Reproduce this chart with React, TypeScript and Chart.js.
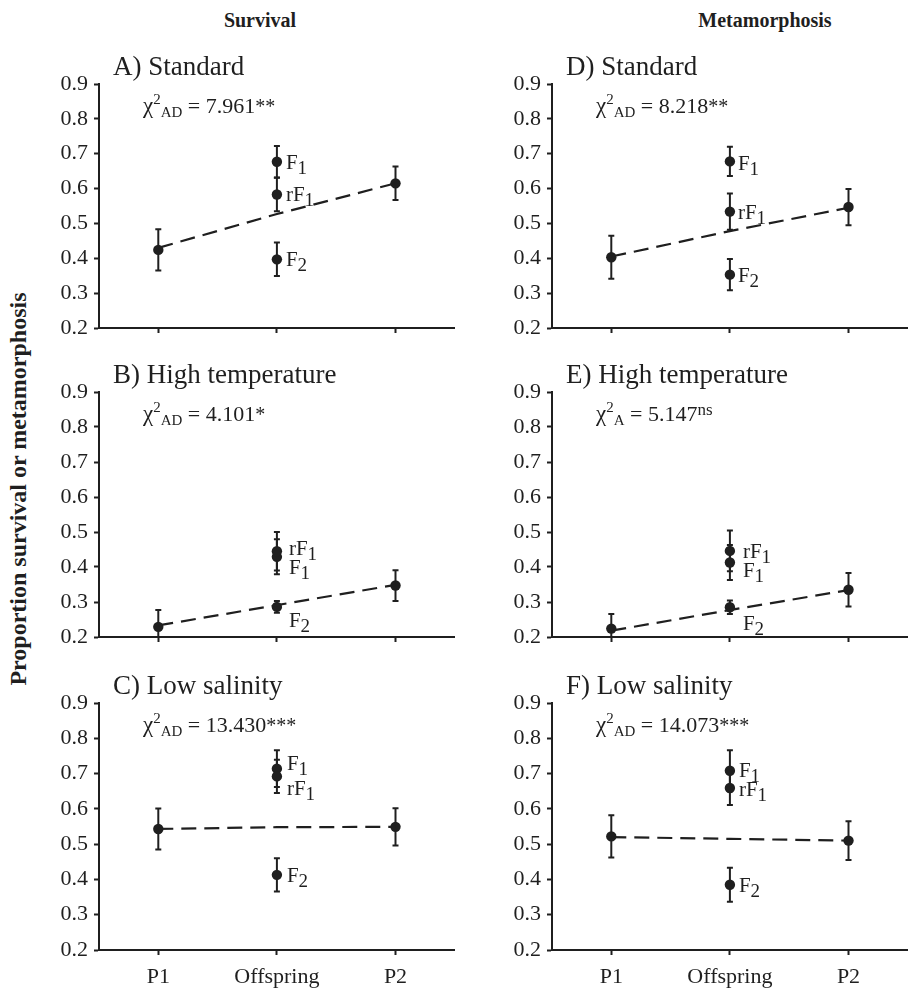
import React, { useEffect, useRef } from 'react';
import { Chart, registerables } from 'chart.js';

Chart.register(...registerables);

const FONT = '"Liberation Serif", "Times New Roman", serif';
const INK = '#1f1f1f';

// ---------- data ----------
const categories = ['P1', 'Offspring', 'P2'];
const yTicks = [0.2, 0.3, 0.4, 0.5, 0.6, 0.7, 0.8, 0.9];
const columnTitles = ['Survival', 'Metamorphosis'];
const yAxisTitle = 'Proportion survival or metamorphosis';

// panels in order A, B, C (survival) then D, E, F (metamorphosis)
const panelTitles = ['A) Standard', 'B) High temperature', 'C) Low salinity', 'D) Standard', 'E) High temperature', 'F) Low salinity'];
const chiSubs = ['AD', 'AD', 'AD', 'AD', 'A', 'AD'];
const chiValues = ['7.961', '4.101', '13.430', '8.218', '5.147', '14.073'];
const chiSigs = ['**', '*', '***', '**', 'ns', '***'];

const offspringNames = ['F', 'rF', 'F'];
const offspringSubs = ['1', '1', '2'];

const p1Means = [0.424, 0.229, 0.543, 0.403, 0.224, 0.522];
const p1Errors = [0.059, 0.048, 0.058, 0.062, 0.042, 0.060];
const p2Means = [0.615, 0.347, 0.549, 0.547, 0.335, 0.510];
const p2Errors = [0.048, 0.044, 0.053, 0.052, 0.048, 0.055];
const f1Means = [0.677, 0.429, 0.714, 0.678, 0.413, 0.708];
const f1Errors = [0.045, 0.050, 0.052, 0.042, 0.050, 0.058];
const rf1Means = [0.583, 0.445, 0.692, 0.534, 0.446, 0.659];
const rf1Errors = [0.048, 0.055, 0.047, 0.052, 0.058, 0.048];
const f2Means = [0.397, 0.286, 0.413, 0.353, 0.285, 0.385];
const f2Errors = [0.048, 0.017, 0.047, 0.045, 0.019, 0.048];

// expected (additive model) line: P1, Offspring, P2
const expectedP1 = [0.430, 0.233, 0.543, 0.405, 0.218, 0.520];
const expectedOffspring = [0.527, 0.291, 0.548, 0.478, 0.277, 0.515];
const expectedP2 = [0.615, 0.349, 0.549, 0.545, 0.334, 0.510];

// ---------- layout (styles) ----------
const chartLeft = [99, 552];
const chartTop = [84, 392, 703];
const chartBottom = [328, 637, 950];
const Y_AXIS_W = 69;
const PAD_TOP = 40;
const X_AXIS_H = 50;
const CANVAS_W = 430;
const labelDx = [9, 12, 10, 8, 13, 9];
const labelDy = [[0, 0, 0], [10, -3, 13], [-6, 12, 0], [2, 0, 0], [8, 0, 16], [-1, 1, 0]];

const decorPlugin = (idx: number) => ({
  id: 'decor' + idx,
  beforeDatasetsDraw(chart: any) {
    const ctx = chart.ctx;
    const ds = chart.data.datasets[1];
    const meta = chart.getDatasetMeta(1);
    const ys = chart.scales.y;
    const a = chart.chartArea;
    ctx.save();
    ctx.beginPath();
    ctx.rect(a.left, a.top - 2, a.right - a.left, a.bottom - a.top + 1);
    ctx.clip();
    ctx.strokeStyle = INK;
    ctx.lineWidth = 2;
    meta.data.forEach((pt: any, i: number) => {
      const v = ds.data[i].y;
      const e = ds.errorBars[i];
      const yt = ys.getPixelForValue(v + e);
      const yb = ys.getPixelForValue(v - e);
      ctx.beginPath();
      ctx.moveTo(pt.x, yt);
      ctx.lineTo(pt.x, yb);
      ctx.moveTo(pt.x - 3, yt);
      ctx.lineTo(pt.x + 3, yt);
      ctx.moveTo(pt.x - 3, yb);
      ctx.lineTo(pt.x + 3, yb);
      ctx.stroke();
    });
    ctx.restore();
  },
  afterDatasetsDraw(chart: any) {
    const ctx = chart.ctx;
    const a = chart.chartArea;
    const meta = chart.getDatasetMeta(1);
    ctx.save();
    ctx.fillStyle = INK;
    ctx.textBaseline = 'alphabetic';
    ctx.textAlign = 'left';
    // offspring labels
    for (let k = 0; k < 3; k++) {
      const pt = meta.data[k + 1];
      const x = pt.x + labelDx[idx];
      const y = pt.y + labelDy[idx][k] + 7;
      ctx.font = `21px ${FONT}`;
      ctx.fillText(offspringNames[k], x, y);
      const w = ctx.measureText(offspringNames[k]).width;
      ctx.font = `19px ${FONT}`;
      ctx.fillText(offspringSubs[k], x + w, y + 5);
    }
    // panel title
    ctx.font = `27px ${FONT}`;
    ctx.fillText(panelTitles[idx], a.left + 14, a.top - 9);
    // chi-square text
    let x = a.left + 44;
    const base = a.top + 29;
    const segs: [string, number, number][] = [
      ['\u03C7', 23, 0],
      ['2', 15, -9],
      [chiSubs[idx], 15, 4],
      [' = ' + chiValues[idx], 22, 0],
      [chiSigs[idx], chiSigs[idx] === 'ns' ? 17 : 20, chiSigs[idx] === 'ns' ? -6 : 0],
    ];
    segs.forEach(([t, s, dy]) => {
      ctx.font = `${s}px ${FONT}`;
      ctx.fillText(t, x, base + dy);
      x += ctx.measureText(t).width;
    });
    ctx.restore();
  },
});

function Panel({ idx }: { idx: number }) {
  const ref = useRef<HTMLCanvasElement>(null);
  const col = Math.floor(idx / 3);
  const row = idx % 3;
  const plotH = chartBottom[row] - chartTop[row];
  const H = PAD_TOP + plotH + X_AXIS_H;
  const left = chartLeft[col] - Y_AXIS_W;
  const top = chartTop[row] - PAD_TOP;

  useEffect(() => {
    const grid = {
      drawOnChartArea: false,
      drawTicks: true,
      tickLength: 5,
      tickWidth: 2,
      tickColor: INK,
    };
    const border = { display: true, color: INK, width: 2 };
    const chart = new Chart(ref.current as HTMLCanvasElement, {
      type: 'scatter',
      data: {
        datasets: [
          {
            data: [
              { x: 1, y: expectedP1[idx] },
              { x: 2, y: expectedOffspring[idx] },
              { x: 3, y: expectedP2[idx] },
            ],
            showLine: true,
            borderColor: INK,
            borderWidth: 2.2,
            borderDash: [15, 8],
            pointRadius: 0,
            fill: false,
          },
          {
            data: [
              { x: 1, y: p1Means[idx] },
              { x: 2, y: f1Means[idx] },
              { x: 2, y: rf1Means[idx] },
              { x: 2, y: f2Means[idx] },
              { x: 3, y: p2Means[idx] },
            ],
            errorBars: [p1Errors[idx], f1Errors[idx], rf1Errors[idx], f2Errors[idx], p2Errors[idx]],
            showLine: false,
            pointRadius: 5.2,
            pointBackgroundColor: INK,
            pointBorderWidth: 0,
            pointBorderColor: INK,
          } as any,
        ],
      },
      options: {
        responsive: false,
        animation: false,
        devicePixelRatio: 1,
        events: [],
        layout: { padding: { top: PAD_TOP, left: 0, right: 0, bottom: 0 } },
        plugins: { legend: { display: false }, tooltip: { enabled: false } },
        scales: {
          x: {
            type: 'linear',
            min: 0.5,
            max: 3.5,
            afterBuildTicks: (s: any) => {
              s.ticks = categories.map((_, i) => ({ value: i + 1 }));
            },
            afterFit: (s: any) => {
              s.height = X_AXIS_H;
            },
            ticks: {
              callback: (v: any) => (row === 2 ? categories[Math.round(Number(v)) - 1] : ''),
              font: { family: FONT, size: 22 },
              color: INK,
              padding: 9,
              maxRotation: 0,
              autoSkip: false,
            },
            grid,
            border,
          },
          y: {
            type: 'linear',
            min: 0.2,
            max: 0.9,
            afterBuildTicks: (s: any) => {
              s.ticks = yTicks.map((v) => ({ value: v }));
            },
            afterFit: (s: any) => {
              s.width = Y_AXIS_W;
            },
            ticks: {
              callback: (v: any) => Number(v).toFixed(1),
              font: { family: FONT, size: 22 },
              color: INK,
              padding: 6,
            },
            grid,
            border,
          },
        },
      } as any,
      plugins: [decorPlugin(idx)],
    });
    return () => chart.destroy();
  }, [idx]);

  return (
    <canvas
      ref={ref}
      width={CANVAS_W}
      height={H}
      style={{ position: 'absolute', left, top, width: CANVAS_W, height: H }}
    />
  );
}

export default function App() {
  return (
    <div
      style={{
        position: 'absolute',
        left: 0,
        top: 0,
        width: 911,
        height: 990,
        overflow: 'hidden',
        background: '#fff',
        fontFamily: FONT,
        color: INK,
      }}
    >
      {columnTitles.map((t, i) => (
        <div
          key={t}
          style={{
            position: 'absolute',
            left: i === 0 ? 260 : 765,
            top: 10,
            transform: 'translateX(-50%)',
            fontWeight: 'bold',
            fontSize: 20,
            lineHeight: '20px',
            whiteSpace: 'nowrap',
          }}
        >
          {t}
        </div>
      ))}
      <div
        style={{
          position: 'absolute',
          left: 18,
          top: 489,
          transform: 'translate(-50%, -50%) rotate(-90deg)',
          fontWeight: 'bold',
          fontSize: 24,
          lineHeight: '24px',
          whiteSpace: 'nowrap',
        }}
      >
        {yAxisTitle}
      </div>
      {[0, 1, 2, 3, 4, 5].map((i) => (
        <Panel key={i} idx={i} />
      ))}
    </div>
  );
}
